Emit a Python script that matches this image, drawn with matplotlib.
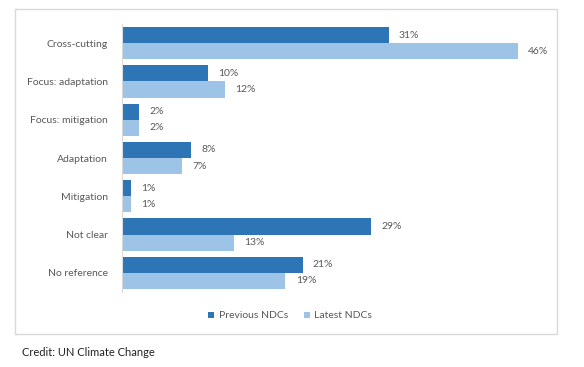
import matplotlib.pyplot as plt
from matplotlib.patches import Rectangle
import numpy as np

plt.rcParams['font.family'] = ['Lato', 'DejaVu Sans']

# data
categories = ['Cross-cutting', 'Focus: adaptation', 'Focus: mitigation',
              'Adaptation', 'Mitigation', 'Not clear', 'No reference']
previous = [31, 10, 2, 8, 1, 29, 21]
latest = [46, 12, 2, 7, 1, 13, 19]

dark = '#2E75B6'
light = '#9DC3E6'
txt = '#595959'

fig = plt.figure(figsize=(5.84, 3.67), dpi=100)
W, H = 584, 367

# frame around chart
fig.patches.append(Rectangle((15 / W, 1 - 334 / H), (557 - 15) / W, (334 - 9) / H,
                             transform=fig.transFigure, fill=False,
                             edgecolor='#D9D9D9', linewidth=1))

ax = fig.add_axes([122 / W, 1 - 292 / H, (552 - 122) / W, (292 - 24) / H])
y = np.arange(len(categories))
h = 0.42
ax.barh(y - h / 2, previous, height=h, color=dark, label='Previous NDCs')
ax.barh(y + h / 2, latest, height=h, color=light, label='Latest NDCs')

for i in range(len(categories)):
    ax.text(previous[i] + 1.2, y[i] - h / 2, f'{previous[i]}%', va='center',
            ha='left', fontsize=7.5, color=txt)
    ax.text(latest[i] + 1.2, y[i] + h / 2, f'{latest[i]}%', va='center',
            ha='left', fontsize=7.5, color=txt)

ax.set_xlim(0, 50)
ax.set_ylim(len(categories) - 0.5, -0.5)
ax.set_yticks(y)
ax.set_yticklabels(categories, fontsize=7.5, color=txt)
ax.tick_params(axis='y', length=0, pad=10)
ax.set_xticks([])
for s in ['top', 'right', 'bottom']:
    ax.spines[s].set_visible(False)
ax.spines['left'].set_color('#D9D9D9')

fig.legend(loc='center', bbox_to_anchor=(290 / W, 1 - 316 / H), ncol=2,
           frameon=False, fontsize=7.5, handlelength=0.6, handleheight=0.6,
           columnspacing=1.5, handletextpad=0.4, labelcolor=txt)

fig.text(22 / W, 1 - 352 / H, 'Credit: UN Climate Change', fontsize=8,
         color='#222222', va='center', ha='left')

fig.savefig('out.png', dpi=100)
